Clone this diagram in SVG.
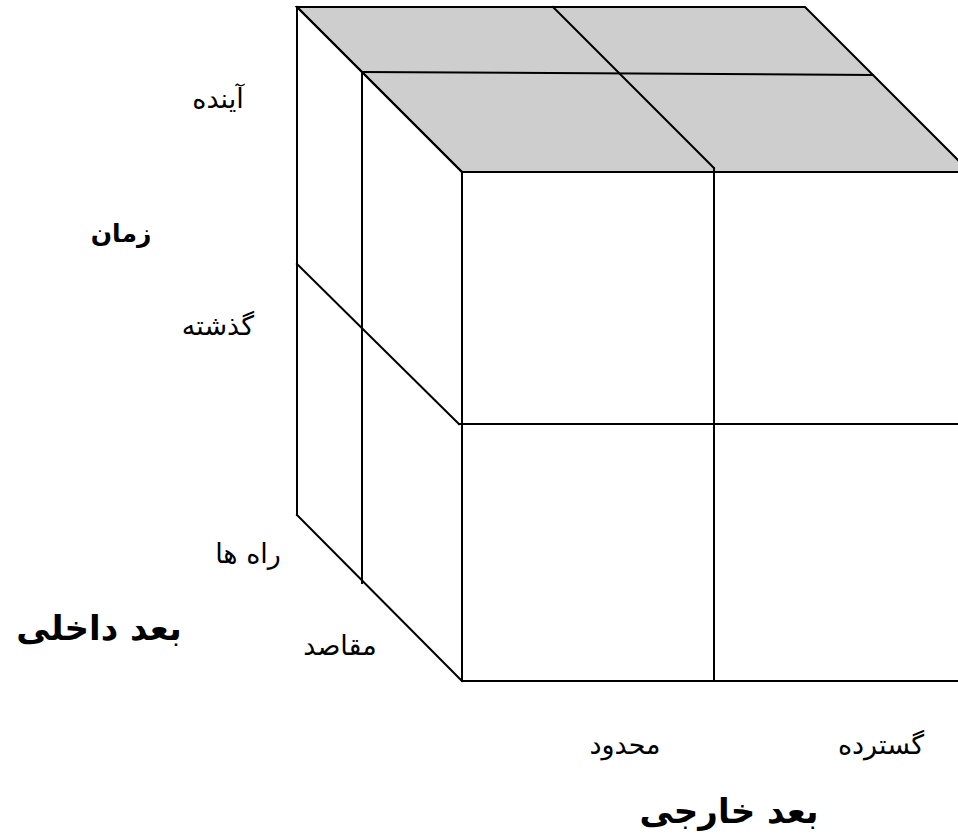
<svg xmlns="http://www.w3.org/2000/svg" width="958" height="839" viewBox="0 0 958 839">
<style>
.ln{stroke:#000;stroke-width:2;fill:none;stroke-linecap:square}
.t{font-family:"DejaVu Sans",sans-serif;font-size:27px;fill:#000;text-anchor:middle}
.b{font-family:"DejaVu Sans",sans-serif;font-weight:bold;fill:#000;text-anchor:middle}
</style>
<rect width="958" height="839" fill="#fff"/>
<g id="cube">
<polygon id="top" points="297,7 805,7 970,172 462,172" fill="#cecece" stroke="#000" stroke-width="2"/>
<g id="edges">
<line class="ln" x1="297" y1="7" x2="297" y2="515"/>
<line class="ln" x1="297" y1="7" x2="462" y2="172"/>
<line class="ln" x1="297" y1="515" x2="462" y2="681"/>
<line class="ln" x1="462" y1="172" x2="462" y2="681"/>
<line class="ln" x1="462" y1="681" x2="958" y2="681"/>
<line class="ln" x1="362" y1="72" x2="873" y2="75"/>
<line class="ln" x1="362" y1="72" x2="362" y2="583"/>
<line class="ln" x1="553" y1="7" x2="714" y2="168"/>
<line class="ln" x1="714" y1="168" x2="714" y2="681"/>
<line class="ln" x1="297" y1="264" x2="459" y2="424"/>
<line class="ln" x1="459" y1="424" x2="958" y2="424"/>
</g>
</g>
<g id="labels">
<text class="t" x="218" y="108">آینده</text>
<text class="b" x="121" y="242" font-size="25">زمان</text>
<text class="t" x="218" y="335">گذشته</text>
<text class="t" x="248" y="563">راه ها</text>
<text class="b" x="99" y="640" font-size="34">بعد داخلی</text>
<text class="t" x="340" y="655">مقاصد</text>
<text class="t" x="625" y="754">محدود</text>
<text class="t" x="881" y="754">گسترده</text>
<text class="b" x="729" y="823" font-size="34">بعد خارجی</text>
</g>
</svg>
